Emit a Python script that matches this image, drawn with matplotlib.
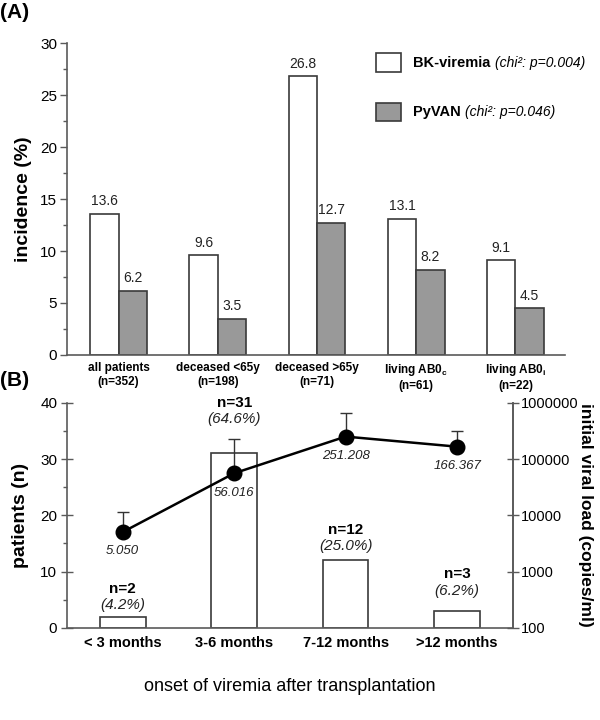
import matplotlib
matplotlib.use("Agg")
import matplotlib.pyplot as plt
import numpy as np
from matplotlib.patches import Rectangle
from matplotlib.ticker import MultipleLocator, FixedLocator, NullLocator

plt.rcParams['font.family'] = ['Liberation Sans', 'DejaVu Sans']
plt.rcParams['mathtext.fontset'] = 'custom'
plt.rcParams['mathtext.rm'] = 'Liberation Sans'
plt.rcParams['mathtext.it'] = 'Liberation Sans:italic'
plt.rcParams['mathtext.bf'] = 'Liberation Sans:bold'

# panel A data
grupos = ['all patients\n(n=352)', 'deceased <65y\n(n=198)', 'deceased >65y\n(n=71)',
          'living AB0$_\\mathbf{c}$\n(n=61)', 'living AB0$_\\mathbf{i}$\n(n=22)']
bk_viremia = [13.6, 9.6, 26.8, 13.1, 9.1]
pyvan = [6.2, 3.5, 12.7, 8.2, 4.5]
legenda = [('BK-viremia', '(chi\u00b2: p=0.004)'), ('PyVAN', '(chi\u00b2: p=0.046)')]

# panel B data
periodos = ['< 3 months', '3-6 months', '7-12 months', '>12 months']
pacientes = [2, 31, 12, 3]
percentuais = ['(4.2%)', '(64.6%)', '(25.0%)', '(6.2%)']
carga_viral = [5050, 56016, 251208, 166367]
carga_rotulos = ['5.050', '56.016', '251.208', '166.367']
carga_sup = [11500, 224000, 660000, 320000]

cor_borda = '#3a3a3a'
cor_eixo = '#5a5a5a'
cinza = '#999999'

fig = plt.figure(figsize=(6, 7.2), dpi=100)

# ---------- (A) ----------
axA = fig.add_axes([0.1117, 0.507, 0.83, 0.433])
x = np.arange(len(grupos))
w = 0.286
b1 = axA.bar(x - w / 2, bk_viremia, w, color='white', edgecolor=cor_borda, linewidth=1.2)
b2 = axA.bar(x + w / 2, pyvan, w, color=cinza, edgecolor=cor_borda, linewidth=1.2)
for barras in (b1, b2):
    for r in barras:
        h = r.get_height()
        axA.annotate(f'{h:.1f}', (r.get_x() + r.get_width() / 2, h), xytext=(0, 4),
                     textcoords='offset points', ha='center', va='bottom', fontsize=10,
                     color='#222222')

axA.set_xlim(-0.52, 4.5)
axA.set_ylim(0, 30)
axA.set_xticks(x)
axA.set_xticklabels(grupos, fontsize=8.5, fontweight='bold')
axA.tick_params(axis='x', length=0, pad=5)
axA.yaxis.set_major_locator(MultipleLocator(5))
axA.yaxis.set_minor_locator(MultipleLocator(2.5))
axA.tick_params(axis='y', which='major', direction='out', length=5, width=1, color=cor_eixo,
                labelsize=11, pad=2)
axA.tick_params(axis='y', which='minor', direction='out', length=3, width=1, color=cor_eixo)
for s in ('top', 'right'):
    axA.spines[s].set_visible(False)
for s in ('left', 'bottom'):
    axA.spines[s].set_color(cor_eixo)
    axA.spines[s].set_linewidth(1.2)
axA.set_ylabel('incidence (%)', fontsize=14, fontweight='bold', labelpad=6)

# legend drawn by hand
for k, (cor, (nome, chi)) in enumerate(zip(['white', cinza], legenda)):
    yc = 0.9375 - k * 0.158
    axA.add_patch(Rectangle((0.62, yc - 0.03), 0.05, 0.06, transform=axA.transAxes,
                            facecolor=cor, edgecolor=cor_borda, linewidth=1.2, clip_on=False))
    t = axA.text(0.695, yc, nome, transform=axA.transAxes, fontsize=10.5,
                 fontweight='bold', va='center', ha='left')
    axA.annotate(chi, xy=(1, 0.5), xycoords=t, xytext=(3, 0), textcoords='offset points',
                 fontsize=10, fontstyle='italic', va='center', ha='left')

fig.text(0.0, 0.983, '(A)', fontsize=15, fontweight='bold', va='center', ha='left')

# ---------- (B) ----------
axB = fig.add_axes([0.1117, 0.128, 0.743, 0.3125])
xb = np.arange(len(periodos))
barrasB = axB.bar(xb, pacientes, 0.41, color='white', edgecolor=cor_borda, linewidth=1.2)
desloc = [8, 24.5, 10, 14.5]
for r, n, p, d in zip(barrasB, pacientes, percentuais, desloc):
    cx = r.get_x() + r.get_width() / 2
    axB.annotate(p, (cx, n), xytext=(0, d), textcoords='offset points', ha='center',
                 va='center', fontsize=11, fontstyle='italic', color='#222222')
    axB.annotate(f'n={n}', (cx, n), xytext=(0, d + 12), textcoords='offset points',
                 ha='center', va='center', fontsize=11, fontweight='bold')

axB.set_xlim(-0.5, 3.5)
axB.set_ylim(0, 40)
axB.set_xticks(xb)
axB.set_xticklabels(periodos, fontsize=10.5, fontweight='bold')
axB.tick_params(axis='x', length=0, pad=6)
axB.yaxis.set_major_locator(MultipleLocator(10))
axB.yaxis.set_minor_locator(FixedLocator([5, 15, 25, 35]))
axB.tick_params(axis='y', which='major', direction='inout', length=8, width=1, color=cor_eixo,
                labelsize=11, pad=3)
axB.tick_params(axis='y', which='minor', direction='out', length=3, width=1, color=cor_eixo)
axB.spines['top'].set_visible(False)
for s in ('left', 'bottom', 'right'):
    axB.spines[s].set_color(cor_eixo)
    axB.spines[s].set_linewidth(1.2)
axB.set_ylabel('patients (n)', fontsize=14, fontweight='bold', labelpad=8)
axB.set_xlabel('onset of viremia after transplantation', fontsize=13, labelpad=20)

ax2 = axB.twinx()
ax2.set_yscale('log')
ax2.set_ylim(100, 1e6)
ax2.yaxis.set_major_locator(FixedLocator([100, 1000, 10000, 100000, 1000000]))
ax2.yaxis.set_minor_locator(NullLocator())
ax2.set_yticklabels(['100', '1000', '10000', '100000', '1000000'])
ax2.tick_params(axis='y', which='major', direction='inout', length=8, width=1, color=cor_eixo,
                labelsize=10.5, pad=2)
for s in ('top', 'left', 'bottom'):
    ax2.spines[s].set_visible(False)
ax2.spines['right'].set_color(cor_eixo)
ax2.spines['right'].set_linewidth(1.2)
carga = np.array(carga_viral)
erro_sup = np.array(carga_sup) - carga
ax2.errorbar(xb, carga, yerr=[np.zeros_like(erro_sup), erro_sup], fmt='o-', color='black',
             markersize=10.5, linewidth=1.8, ecolor='#333333', elinewidth=1, capsize=4,
             capthick=1)
for xi, yi, rot in zip(xb, carga, carga_rotulos):
    ax2.annotate(rot, (xi, yi), xytext=(0, -14), textcoords='offset points', ha='center',
                 va='center', fontsize=9.5, fontstyle='italic', color='#222222')
ax2.set_ylabel('initial viral load (copies/ml)', fontsize=12.5, fontweight='bold',
               rotation=270, labelpad=10)

fig.text(0.0, 0.472, '(B)', fontsize=15, fontweight='bold', va='center', ha='left')

fig.savefig('out.png', dpi=100)
